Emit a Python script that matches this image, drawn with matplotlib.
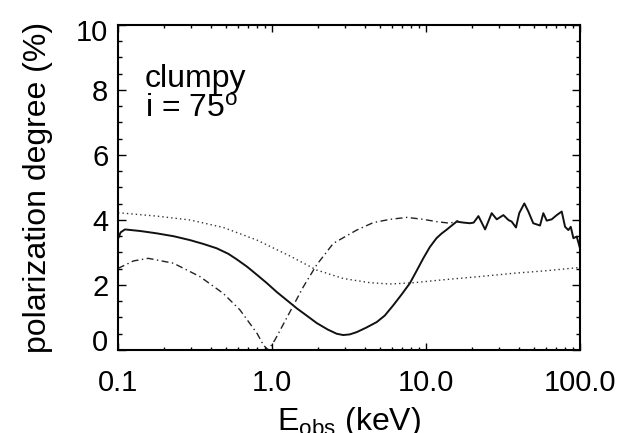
import matplotlib
matplotlib.use("Agg")
import matplotlib.pyplot as plt
from matplotlib.ticker import FixedLocator, LogLocator, MultipleLocator, NullFormatter
from matplotlib.transforms import ScaledTranslation

plt.rcParams['font.family'] = ['Liberation Sans', 'DejaVu Sans']
plt.rcParams['mathtext.fontset'] = 'custom'
plt.rcParams['mathtext.rm'] = 'Liberation Sans'
plt.rcParams['mathtext.it'] = 'Liberation Sans:italic'
plt.rcParams['mathtext.bf'] = 'Liberation Sans:bold'

# ---- data ----
solid_x = [0.1, 0.104, 0.111, 0.14, 0.178, 0.23, 0.294, 0.36, 0.437, 0.52, 0.59, 0.69,
           0.80, 0.93, 1.07, 1.25, 1.45, 1.7, 1.95, 2.3, 2.63, 2.9, 3.2, 3.55, 4.1,
           4.79, 5.4, 6.14, 7.0, 7.87, 8.7, 9.6, 10.6, 11.7, 12.6, 13.6, 15.8, 17.5, 19.3,
           20.4, 21.9, 24.2, 26.7, 28.8, 31.8, 34.3, 36.0, 38.4, 40.3, 43.5, 46.2,
           49.7, 55.0, 57.8, 60.8, 65.5, 70.6, 76.1, 80.0, 84.0, 87.1, 90.6, 95.2, 100]
solid_y = [3.42, 3.62, 3.71, 3.66, 3.59, 3.50, 3.38, 3.26, 3.13, 2.96, 2.79, 2.56,
           2.31, 2.05, 1.79, 1.53, 1.28, 1.04, 0.83, 0.63, 0.50, 0.46, 0.48, 0.55, 0.69,
           0.86, 1.06, 1.38, 1.73, 2.06, 2.44, 2.82, 3.17, 3.44, 3.58, 3.70, 3.95, 3.92, 3.90,
           3.92, 4.12, 3.71, 4.21, 4.02, 4.15, 4.00, 3.95, 3.77, 4.21, 4.51, 4.26,
           3.90, 3.83, 4.21, 3.98, 4.02, 4.15, 4.26, 3.79, 3.69, 3.79, 3.44, 3.49, 3.13]

dotted_x = [0.1, 0.108, 0.178, 0.294, 0.483, 0.80, 1.31, 1.95, 2.9, 4.33, 5.84, 8.28,
            13.6, 22.4, 36.9, 60.8, 100]
dotted_y = [4.22, 4.21, 4.12, 4.0, 3.77, 3.38, 2.89, 2.46, 2.2, 2.07, 2.03, 2.07,
            2.17, 2.26, 2.36, 2.44, 2.54]

dashdot_x = [0.1, 0.126, 0.157, 0.229, 0.34, 0.483, 0.62, 0.80, 0.88, 0.946, 1.045,
             1.31, 1.6, 1.95, 2.5, 3.55, 4.55, 5.84, 7.5, 9.6, 11.7, 14.3, 16.2]
dashdot_y = [2.51, 2.74, 2.82, 2.67, 2.26, 1.74, 1.23, 0.51, 0.15, 0.0, 0.31,
             1.18, 1.95, 2.62, 3.28, 3.69, 3.92, 4.02, 4.08, 4.02, 3.95, 3.90, 3.98]

xticks = [0.1, 1.0, 10.0, 100.0]
xtick_labels = ["0.1", "1.0", "10.0", "100.0"]
yticks = [0, 2, 4, 6, 8, 10]
ytick_labels = ["0", "2", "4", "6", "8", "10"]

# ---- figure ----
fig = plt.figure(figsize=(6.25, 4.33), dpi=100)
ax = fig.add_axes([0.1888, 0.1917, 0.7392, 0.7506])

ax.plot(solid_x, solid_y, color='#111111', lw=1.4, solid_joinstyle='round')
ax.plot(dotted_x, dotted_y, color='#333333', lw=1.0, linestyle=(0, (1, 2.2)))
ax.plot(dashdot_x, dashdot_y, color='#222222', lw=1.0, linestyle=(0, (5, 2.5, 1, 2.5)))

ax.set_xscale('log')
ax.set_xlim(0.1, 100)
ax.set_ylim(0, 10)

ax.xaxis.set_major_locator(FixedLocator(xticks))
ax.set_xticklabels(xtick_labels)
ax.xaxis.set_minor_locator(LogLocator(base=10, subs=[2, 3, 4, 5, 6, 7, 8, 9]))
ax.xaxis.set_minor_formatter(NullFormatter())
ax.set_yticks(yticks)
ax.set_yticklabels(ytick_labels)
ax.yaxis.set_minor_locator(MultipleLocator(0.5))

for s in ax.spines.values():
    s.set_linewidth(1.5)

ax.tick_params(which='both', direction='in', top=True, right=True, width=1.0, labelsize=21)
ax.tick_params(axis='y', which='major', length=6, pad=7)
ax.tick_params(axis='y', which='minor', length=3)
ax.tick_params(axis='x', which='major', length=5, pad=14)
ax.tick_params(axis='x', which='minor', length=2.5)

ax.set_ylabel("polarization degree (%)", fontsize=23)
ax.yaxis.set_label_coords(-0.140, 0.5)
ax.set_xlabel(r"E$_{\rm obs}$ (keV)", fontsize=23)
ax.xaxis.set_label_coords(0.5, -0.17)

ax.text(0.150, 8.10, "clumpy", fontsize=23, va='baseline', ha='left')
ax.text(0.150, 7.18, r"i = 75$^{\rm o}$", fontsize=23, va='baseline', ha='left')

# nudge end labels of the y axis like the reference
yt = ax.yaxis.get_major_ticks()
yt[0].label1.set_transform(yt[0].label1.get_transform() + ScaledTranslation(0, 10 / 100, fig.dpi_scale_trans))
yt[-1].label1.set_transform(yt[-1].label1.get_transform() + ScaledTranslation(0, -5 / 100, fig.dpi_scale_trans))

fig.savefig("out.png", dpi=100)
